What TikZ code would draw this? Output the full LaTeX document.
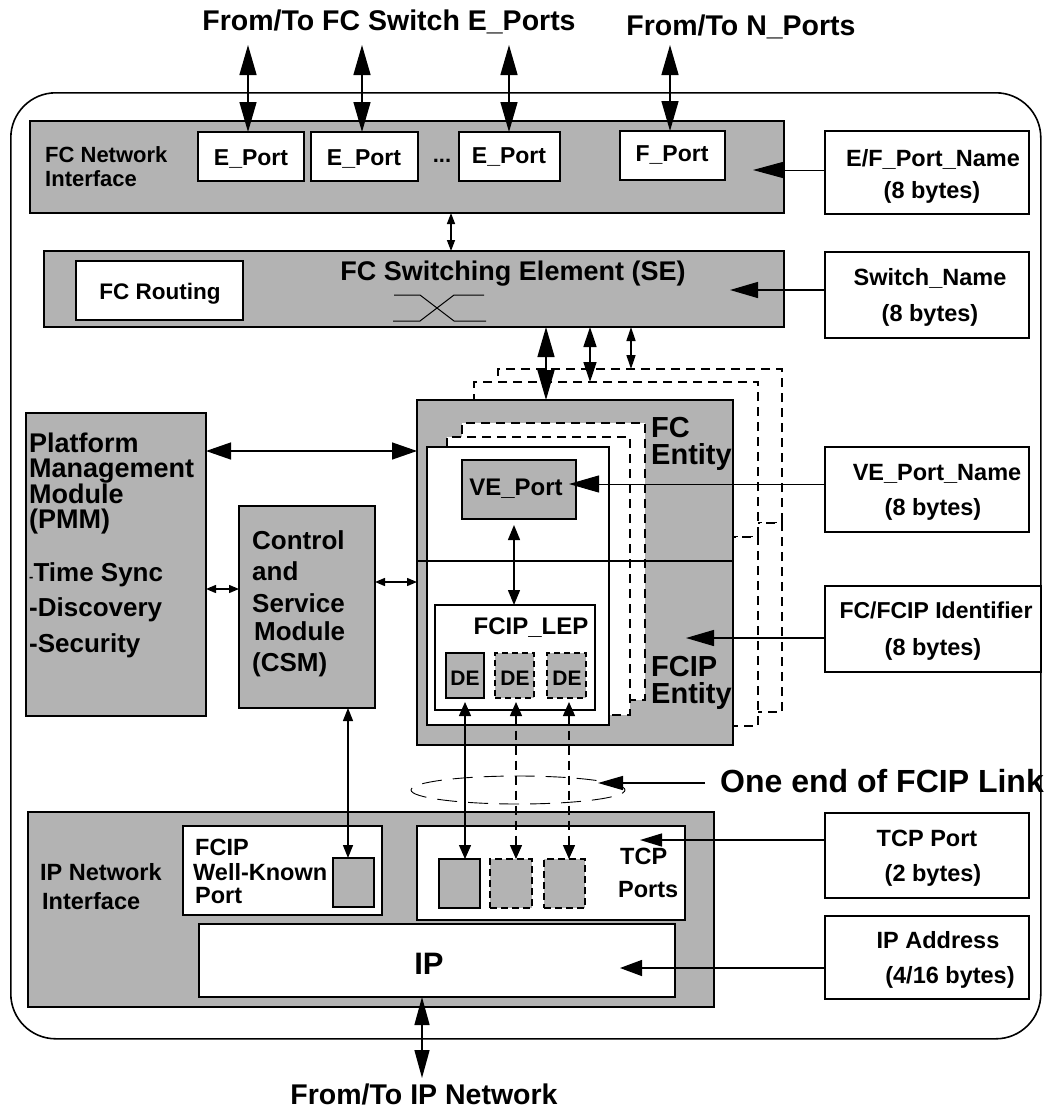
\documentclass[tikz,border=0pt]{standalone}
\usepackage{fontspec}
\setmainfont{Liberation Sans}
\usetikzlibrary{arrows.meta,shapes.geometric}
\definecolor{gr}{RGB}{179,179,179}
\newcommand\bx[6]{\node[#1,minimum width={(#5-#3)*1pt},minimum height={(#6-#4)*1pt}] (#2) at (#3,#4) {};}
\newcommand\fsz[1]{\fontsize{#1}{#1}\selectfont}
\begin{document}
\begin{tikzpicture}[x=1pt,y=-1pt,
  box/.style={draw,line width=1.6pt,inner sep=0pt,outer sep=0pt,anchor=north west},
  gbox/.style={box,fill=gr},
  wbox/.style={box,fill=white},
  dsh/.style={dash pattern=on 9pt off 6pt},
  txt/.style={inner sep=0pt,font=\bfseries\fsz{#1},text height={0.72*#1pt},text depth=0pt},
  txt/.default=24,
  lt/.style={txt=#1,anchor=west},
  lt/.default=24,
  conn/.style={line width=1.4pt},
  thinc/.style={line width=1pt},
  dbl/.style 2 args={conn,{Triangle[length=#1pt,width=#2pt]}-{Triangle[length=#1pt,width=#2pt]}},
  one/.style 2 args={conn,-{Triangle[length=#1pt,width=#2pt]}},
]
\fill[white] (0,0) rectangle (1050,1111);
\useasboundingbox (0,0) rectangle (1050,1111);

% outer frame
\node[draw,line width=1.6pt,rounded corners=45pt,inner sep=0pt,anchor=north west,minimum width=1030pt,minimum height=946pt] (outer) at (10,92) {};

% FC network interface
\bx{gbox}{fcni}{30}{121}{784}{213}
\bx{wbox}{ep1}{198}{132}{304}{181}
\bx{wbox}{ep2}{311}{132}{418}{181}
\bx{wbox}{ep3}{459}{132}{560}{181}
\bx{wbox}{fp}{620}{131}{725}{180}
\bx{wbox}{efname}{825}{131}{1029}{214}

% switching element
\bx{gbox}{se}{44}{251}{784}{327}
\bx{wbox}{fcr}{76}{261}{243}{320}
\bx{wbox}{swname}{825}{252}{1029}{338}

% stacked entity copies
\bx{wbox,dsh}{bu}{498}{369}{782}{523}
\bx{wbox,dsh}{bl}{498}{523}{782}{712}
\bx{wbox,dsh}{mu}{474}{382}{758}{537}
\bx{wbox,dsh}{ml}{474}{537}{758}{726}
\bx{gbox}{fce}{417}{400}{733}{561}
\bx{gbox}{fcipe}{417}{561}{733}{745}
\bx{wbox,dsh}{dtwo}{462}{423}{645}{700}
\bx{wbox,dsh}{done}{447}{437}{630}{715}
\bx{wbox}{inner}{427}{447}{609}{725}
\draw[line width=1.6pt] (fce.south west) -- (fce.south east);
\bx{gbox}{vep}{462}{460}{576}{519}
\bx{wbox}{lep}{435}{605}{595}{710}
\bx{gbox}{deone}{446}{653}{484}{698}
\bx{gbox,dash pattern=on 6pt off 4pt}{detwo}{495}{653}{534}{698}
\bx{gbox,dash pattern=on 6pt off 4pt}{dethree}{547}{653}{586}{698}
\bx{wbox}{vename}{825}{447}{1029}{532}
\bx{wbox}{fcipid}{825}{586}{1041}{672}

% PMM and CSM
\bx{gbox}{pmm}{26}{413}{206}{716}
\bx{gbox}{csm}{239}{506}{375}{708}

% IP network interface
\bx{gbox}{ipni}{28}{812}{714}{1007}
\bx{wbox}{wkp}{183}{826}{382}{915}
\bx{gbox}{wkpp}{333}{858}{374}{907}
\bx{wbox}{tcpb}{417}{826}{685}{920}
\bx{gbox}{tpone}{439}{859}{480}{908}
\bx{gbox,dash pattern=on 7pt off 4pt}{tptwo}{490}{859}{532}{908}
\bx{gbox,dash pattern=on 7pt off 4pt}{tpthree}{544}{859}{585}{908}
\bx{wbox}{ipb}{199}{924}{675}{997}
\bx{wbox}{tcpport}{825}{813}{1029}{898}
\bx{wbox}{ipaddr}{825}{916}{1029}{999}

\node[ellipse,draw,line width=0.9pt,dash pattern=on 20pt off 11pt,inner sep=0pt,minimum width=214pt,minimum height=28pt] (ell) at (518,790) {};

% switch symbol
\draw[line width=1pt] (394,295) -- (420,295) -- (454,321) -- (486,321);
\draw[line width=1pt] (393,321) -- (420,321) -- (454,295) -- (484,295);

% ---------- texts ----------
\node[txt=28.5] (ttlone) at (389,20) {From/To FC Switch E\_Ports};
\node[txt=28.5] (ttltwo) at (741,25) {From/To N\_Ports};
\node[lt=22] (fcnia) at (45,155) {FC Network};
\node[lt=22] (fcnib) at (45,179) {Interface};
\node[txt=23] (ep1t) at (251,157) {E\_Port};
\node[txt=23] (ep2t) at (364,157) {E\_Port};
\node[txt=23] (ep3t) at (509,155) {E\_Port};
\node[txt=22] (dots) at (442,155) {...};
\node[txt=23] (fpt) at (672,153) {F\_Port};
\node[txt=23.5] (efa) at (933,158) {E/F\_Port\_Name};
\node[txt=23.5] (efb) at (932,190) {(8 bytes)};
\node[txt=22.5] (fcrt) at (160,291) {FC Routing};
\node[txt=27] (set) at (513,271) {FC Switching Element (SE)};
\node[txt=23.5] (swa) at (930,277) {Switch\_Name};
\node[txt=23.5] (swb) at (930,313) {(8 bytes)};
\node[lt=29] (fcea) at (651,427) {FC};
\node[lt=29] (fceb) at (651,454) {Entity};
\node[lt=29] (fcipa) at (651,666) {FCIP};
\node[lt=29] (fcipb) at (651,693) {Entity};
\node[txt=24] (vept) at (516,487) {VE\_Port};
\node[txt=24] (lept) at (531,626) {FCIP\_LEP};
\node[txt=21] (de1t) at (465,678) {DE};
\node[txt=21] (de2t) at (515,678) {DE};
\node[txt=21] (de3t) at (567,678) {DE};
\node[txt=23.5] (vena) at (937,472) {VE\_Port\_Name};
\node[txt=23.5] (venb) at (933,507) {(8 bytes)};
\node[txt=23] (fcida) at (936,610) {FC/FCIP Identifier};
\node[txt=23.5] (fcidb) at (933,647) {(8 bytes)};
\node[lt=27] (pma) at (29,443) {Platform};
\node[lt=27] (pmb) at (29,468) {Management};
\node[lt=27] (pmc) at (29,494) {Module};
\node[lt=27] (pmd) at (29,519) {(PMM)};
\node[lt=26] (pme) at (29,572) {{\fsz{13}-}Time Sync};
\node[lt=26] (pmf) at (29,607) {-Discovery};
\node[lt=26] (pmg) at (29,643) {-Security};
\node[lt=26] (csa) at (252,540) {Control};
\node[lt=26] (csb) at (252,571) {and};
\node[lt=26] (csc) at (252,603) {Service};
\node[lt=26] (csd) at (254,631) {Module};
\node[lt=26] (cse) at (252,662) {(CSM)};
\node[lt=32] (oneend) at (720,781) {One end of FCIP Link};
\node[lt=23.5] (ipna) at (40,872) {IP Network};
\node[lt=23.5] (ipnb) at (42,901) {Interface};
\node[lt=23.5] (wka) at (195,847) {FCIP};
\node[lt=23.5] (wkb) at (193,872) {Well-Known};
\node[lt=23.5] (wkc) at (195,895) {Port};
\node[lt=23.5] (tcpa) at (620,856) {TCP};
\node[lt=23.5] (tcpbt) at (618,889) {Ports};
\node[txt=31] (ipt) at (429,963) {IP};
\node[txt=23.5] (tpa) at (927,838) {TCP Port};
\node[txt=23.5] (tpb) at (933,873) {(2 bytes)};
\node[txt=23.5] (iaa) at (938,940) {IP Address};
\node[txt=23.5] (iab) at (950,975) {(4/16 bytes)};
\node[txt=28.5] (ttlthree) at (424,1094) {From/To IP Network};

% ---------- connectors ----------
\coordinate (uone) at (248,45);
\coordinate (utwo) at (362,45);
\coordinate (uthree) at (509,45);
\coordinate (ufour) at (670,45);
\draw[dbl={30}{17}] (uone) -- (uone |- ep1.north);
\draw[dbl={30}{17}] (utwo) -- (utwo |- ep2.north);
\draw[dbl={30}{17}] (uthree) -- (uthree |- ep3.north);
\draw[dbl={30}{17}] (ufour) -- (ufour |- fp.north);

\coordinate (cnise) at (451,0);
\draw[dbl={11}{8}] (cnise |- fcni.south) -- (cnise |- se.north);

\coordinate (eftip) at (753,170);
\draw[thinc,-{Triangle[length=30pt,width=16pt]}] (eftip -| efname.west) -- (eftip);
\coordinate (swtip) at (730,290);
\draw[one={28}{16}] (swtip -| swname.west) -- (swtip);

\coordinate (sone) at (546,0);
\coordinate (stwo) at (590,0);
\coordinate (sthree) at (631,0);
\draw[dbl={30}{17}] (sone |- se.south) -- (sone |- fce.north);
\draw[dbl={20}{13}] (stwo |- se.south) -- (stwo |- mu.north);
\draw[dbl={14}{9}] (sthree |- se.south) -- (sthree |- bu.north);

\coordinate (pone) at (0,451);
\coordinate (ptwo) at (0,589);
\coordinate (pthree) at (0,582);
\coordinate (pfour) at (348,0);
\draw[dbl={25}{17}] (pone -| pmm.east) -- (pone -| fce.west);
\draw[dbl={10}{8}] (ptwo -| pmm.east) -- (ptwo -| csm.west);
\draw[dbl={10}{8}] (pthree -| csm.east) -- (pthree -| fcipe.west);
\draw[dbl={13}{10}] (pfour |- csm.south) -- (pfour |- wkpp.north);

\coordinate (vtip) at (569,484);
\draw[thinc,-{Triangle[length=30pt,width=17pt]}] (vtip -| vename.west) -- (vtip);
\coordinate (vtwo) at (514,0);
\draw[dbl={15}{12},shorten <=6pt] (vtwo |- vep.south) -- (vtwo |- lep.north);

\coordinate (ftip) at (686,638);
\draw[one={28}{16}] (ftip -| fcipid.west) -- (ftip);

\coordinate (done) at (465,0);
\coordinate (dtwo) at (516,0);
\coordinate (dthree) at (569,0);
\draw[dbl={14}{12},shorten <=4pt] (done |- deone.south) -- (done |- tpone.north);
\draw[dbl={14}{12},shorten <=4pt,dsh] (dtwo |- detwo.south) -- (dtwo |- tptwo.north);
\draw[dbl={14}{12},shorten <=4pt,dsh] (dthree |- dethree.south) -- (dthree |- tpthree.north);

\coordinate (etip) at (598,783);
\draw[one={25}{14},shorten <=15pt] (oneend.west |- etip) -- (etip);

\coordinate (tctip) at (640,840);
\draw[one={22}{13}] (tctip -| tcpport.west) -- (tctip);
\coordinate (iatip) at (620,968);
\draw[one={22}{16}] (iatip -| ipaddr.west) -- (iatip);
\coordinate (ibot) at (422,1078);
\draw[dbl={28}{15}] (ibot |- ipb.south) -- (ibot);
\end{tikzpicture}
\end{document}
